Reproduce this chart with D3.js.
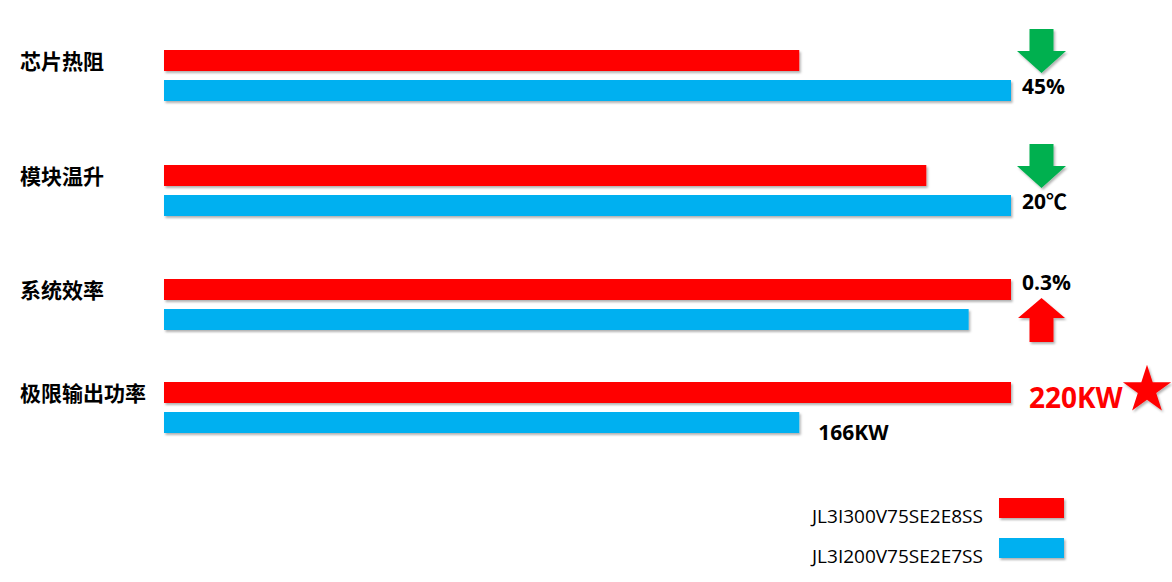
<!DOCTYPE html>
<html><head><meta charset="utf-8">
<script src="https://cdn.jsdelivr.net/npm/d3@7"></script>
<style>body{margin:0;background:#fff;}svg{display:block;}</style>
</head><body>
<svg id="c" width="1172" height="582"></svg>
<script>
const categories = ["芯片热阻", "模块温升", "系统效率", "极限输出功率"];
const seriesNames = ["JL3I300V75SE2E8SS", "JL3I200V75SE2E7SS"];
const newValues = [75, 90, 100, 100];      // relative, red series
const oldValues = [100, 100, 95, 75];      // relative, blue series
const annotations = ["45%", "20℃", "0.3%", "220KW"];
const annotDir = ["down", "down", "up", "star"];
const oldLabel4 = "166KW";

// layout
const rowTop = [50, 165, 279, 382];
const RED = "#ff0000", BLUE = "#00b0f0", GREEN = "#00b050";
const sans = "'Open Sans','Noto Sans CJK SC',sans-serif";
const cjk = "'Noto Sans CJK SC',sans-serif";

const svg = d3.select("#c");
const defs = svg.append("defs");
const f = defs.append("filter").attr("id","sh").attr("x","-10%").attr("y","-30%").attr("width","130%").attr("height","180%");
f.append("feDropShadow").attr("dx",1.5).attr("dy",2).attr("stdDeviation",1.2).attr("flood-color","#000").attr("flood-opacity",0.3);

const x = d3.scaleLinear().domain([0, 100]).range([164, 1011]);
const y = d3.scaleOrdinal().domain(categories).range(rowTop);
const barH = 21, gap = 30;

categories.forEach((c, i) => {
  const y0 = y(c);
  const g = svg.append("g");
  g.append("text").attr("x", 20).attr("y", y0 + 18.5).attr("font-family", cjk)
    .attr("font-weight", "bold").attr("font-size", 21).attr("fill", "#000").text(c);
  g.append("rect").attr("x", x(0)).attr("y", y0).attr("width", x(newValues[i]) - x(0)).attr("height", barH)
    .attr("fill", RED).attr("filter", "url(#sh)");
  g.append("rect").attr("x", x(0)).attr("y", y0 + gap).attr("width", x(oldValues[i]) - x(0)).attr("height", barH)
    .attr("fill", BLUE).attr("filter", "url(#sh)");

  const ax = 1041.5;
  if (annotDir[i] === "down") {
    const t = y0 - 21;
    const pts = [[ax-12,t],[ax+12,t],[ax+12,t+22],[ax+24.5,t+22],[ax,t+44],[ax-24.5,t+22],[ax-12,t+22]];
    g.append("polygon").attr("points", pts.map(p=>p.join(",")).join(" ")).attr("fill", GREEN).attr("filter","url(#sh)");
    g.append("text").attr("x", 1022).attr("y", y0 + 44).attr("font-family", sans).attr("font-weight","bold")
      .attr("font-size", 21).attr("fill", "#000").text(annotations[i]);
  } else if (annotDir[i] === "up") {
    const t = y0 + 19;
    const pts = [[ax,t],[ax+23.5,t+20],[ax+12,t+20],[ax+12,t+44],[ax-12,t+44],[ax-12,t+20],[ax-23.5,t+20]];
    g.append("polygon").attr("points", pts.map(p=>p.join(",")).join(" ")).attr("fill", RED).attr("filter","url(#sh)");
    g.append("text").attr("x", 1022).attr("y", y0 + 11).attr("font-family", sans).attr("font-weight","bold")
      .attr("font-size", 21).attr("fill", "#000").text(annotations[i]);
  } else {
    g.append("text").attr("x", 1029).attr("y", y0 + 26).attr("font-family", sans).attr("font-weight","bold")
      .attr("font-size", 28).attr("fill", RED).text(annotations[i]);
    const star = d3.symbol().type(d3.symbolStar).size(720);
    g.append("path").attr("d", star()).attr("transform", `translate(1147,${y0 + 8})`)
      .attr("fill", RED).attr("filter","url(#sh)");
    g.append("text").attr("x", x(oldValues[i]) + 19).attr("y", y0 + gap + 28).attr("font-family", sans)
      .attr("font-weight","bold").attr("font-size", 21).attr("fill", "#000").text(oldLabel4);
  }
});

// legend
const leg = svg.append("g");
seriesNames.forEach((s, i) => {
  const ly = 498 + i * 40;
  leg.append("text").attr("x", 812).attr("y", ly + 25).attr("font-family", sans)
    .attr("font-size", 19).attr("fill", "#000").text(s);
  leg.append("rect").attr("x", 999).attr("y", ly).attr("width", 65).attr("height", 20)
    .attr("fill", i === 0 ? RED : BLUE).attr("filter", "url(#sh)");
});
</script>
</body></html>
